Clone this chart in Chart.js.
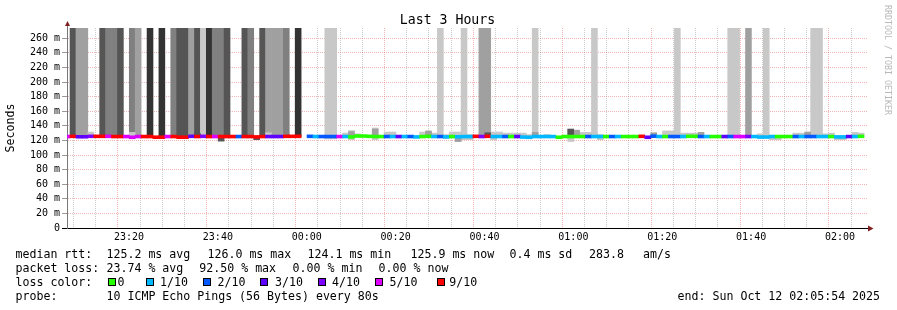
<!DOCTYPE html>
<html>
<head>
<meta charset="utf-8">
<title>Last 3 Hours</title>
<script src="https://cdn.jsdelivr.net/npm/chart.js@4.4.1/dist/chart.umd.min.js"></script>
<style>
  html, body { margin: 0; padding: 0; background: #fff; }
  #wrap { position: relative; width: 897px; height: 310px; overflow: hidden; font-family: "DejaVu Sans Mono", monospace; color: #000; }
  #chart { position: absolute; left: 0; top: 0; }
  #title { position: absolute; left: 0; top: 11.5px; width: 895px; text-align: center; font-size: 13.2px; line-height: 16px; }
  #brand { position: absolute; left: 883px; top: 5px; font-size: 8.3px; line-height: 10px; color: #b8b8b8; writing-mode: vertical-rl; white-space: pre; }
  .lg { position: absolute; font-size: 11.6px; line-height: 14px; white-space: pre; }
  .box { position: absolute; top: 278px; width: 6px; height: 6px; border: 1px solid #000; }
</style>
</head>
<body>
<div id="wrap">
  <canvas id="chart" width="897" height="310"></canvas>
  <div id="title">Last 3 Hours</div>
  <div id="brand">RRDTOOL / TOBI OETIKER</div>
  <div id="legend"></div>
</div>
<script>
// time in minutes after 23:00 (Oct 11); one sample every 80 s
const STEP_MIN = 80 / 60;
const FIRST_SAMPLE = 6 + 4 / 60; // 23:06:04
const VIEW_MIN = 6.05;
const VIEW_MAX = 186.3;
const Y_MAX = 274;
const OFF_SCALE = 300; // smoke from lost pings runs off the top
const MEDIAN_HALF = 2; // median line thickness, ms
const MONO = '"DejaVu Sans Mono", monospace';

// lost pings out of 10, per sample
const loss = [
    5, 9, 3, 3, 4, 9, 9, 5, 9, 9,
    5, 5, 5, 9, 9, 9, 9, 5, 9, 9,
    9, 3, 9, 4, 9, 5, 9, 9, 9, 2,
    9, 9, 9, 9, 3, 3, 3, 9, 9, 9,
    10, 2, 1, 2, 2, 2, 5, 1, 0, 0,
    0, 0, 0, 0, 2, 1, 3, 1, 2, 1,
    0, 0, 1, 2, 1, 0, 1, 1, 1, 9,
    4, 9, 1, 1, 2, 0, 3, 1, 1, 1,
    1, 1, 1, 0, 0, 0, 0, 0, 2, 1,
    1, 0, 2, 1, 0, 0, 0, 9, 3, 2,
    1, 0, 2, 2, 1, 0, 0, 2, 1, 0,
    0, 3, 2, 5, 5, 4, 1, 1, 1, 1,
    0, 0, 0, 2, 1, 2, 2, 1, 1, 0,
    1, 1, 3, 1, 0,
];

// median rtt, ms
const median = [
    125.3, 125.6, 125.0, 125.0, 125.6, 125.6, 125.6, 125.6, 125.3, 125.3,
    125.3, 124.3, 125.3, 125.3, 125.3, 124.4, 124.4, 125.3, 125.3, 124.4,
    124.4, 125.6, 125.3, 125.6, 125.3, 125.3, 125.3, 125.3, 125.3, 125.3,
    125.3, 125.3, 124.8, 125.3, 125.3, 125.3, 125.3, 125.6, 125.6, 125.6,
    null, 125.6, 125.3, 125.3, 125.3, 125.3, 125.3, 125.3, 124.8, 126.0,
    126.0, 125.6, 125.3, 125.3, 125.3, 125.3, 125.3, 125.3, 125.3, 124.8,
    125.3, 125.6, 125.3, 125.3, 124.8, 125.3, 125.0, 125.3, 125.3, 125.6,
    125.3, 125.6, 125.3, 125.3, 125.3, 125.3, 125.3, 124.6, 124.3, 125.3,
    125.3, 125.3, 125.3, 124.3, 125.3, 125.3, 125.3, 125.3, 125.3, 125.3,
    125.3, 125.3, 125.3, 125.3, 125.3, 125.3, 125.3, 125.6, 124.3, 125.8,
    125.3, 125.3, 125.3, 125.3, 125.3, 125.6, 125.6, 125.3, 125.3, 125.3,
    125.3, 125.3, 125.3, 125.3, 125.3, 125.3, 125.3, 124.6, 124.6, 125.3,
    125.3, 125.3, 125.3, 125.3, 125.3, 125.3, 125.3, 125.3, 125.3, 125.3,
    124.8, 124.8, 125.3, 125.3, 125.6,
];

// pings above the scale (smoke density), per sample
const highPings = [
    0, 4, 2, 2, 0, 0, 4, 3, 3, 4,
    0, 3, 2, 0, 5, 0, 5, 0, 3, 4,
    4, 2, 4, 1, 5, 3, 3, 4, 0, 0,
    4, 3, 0, 4, 2, 2, 2, 3, 0, 5,
    0, 0, 0, 0, 1, 1, 0, 0, 0, 0,
    0, 0, 0, 0, 0, 0, 0, 0, 0, 0,
    0, 0, 0, 1, 0, 0, 0, 1, 0, 0,
    2, 2, 0, 0, 0, 0, 0, 0, 0, 1,
    0, 0, 0, 0, 0, 0, 0, 0, 0, 1,
    0, 0, 0, 0, 0, 0, 0, 0, 0, 0,
    0, 0, 0, 1, 0, 0, 0, 0, 0, 0,
    0, 0, 1, 1, 0, 2, 0, 0, 1, 0,
    0, 0, 0, 0, 0, 0, 1, 1, 0, 0,
    0, 0, 0, 0, 0,
];

// ping spread around the median: [sample, low ms, high ms]
const smokeOuter = [
    [4, 127, 131.5], [11, 126, 131], [34, 126, 130.5], [44, 122, 128], [45, 122, 128],
    [47, 125, 130], [48, 121, 133.5], [49, 125, 129], [52, 121, 137], [54, 125, 131.5],
    [55, 125, 131.5], [60, 125, 131.5], [61, 125, 131.5], [62, 125, 130], [64, 123, 128],
    [65, 125, 131.5], [66, 118.5, 131.5], [67, 121, 128], [68, 121, 128], [72, 121, 131.5],
    [73, 125, 131.5], [74, 125, 130], [75, 125, 130], [76, 125, 130], [77, 125, 130],
    [78, 123, 128], [81, 125, 128], [85, 118.5, 135.5], [86, 125, 134], [87, 125, 131],
    [88, 125, 131], [89, 125, 131], [90, 121, 128], [101, 125, 133], [102, 125, 133],
    [104, 125, 130], [105, 125, 130], [106, 125, 130], [117, 125, 129], [119, 121, 126],
    [120, 121, 126], [123, 125, 130], [124, 125, 130], [128, 125, 129], [129, 125, 130],
    [130, 121, 126], [131, 121, 126], [133, 125, 131], [134, 125, 130],
];
const smokeInner = [
    [36, 126, 129], [48, 126, 132], [52, 124, 135.5], [61, 126, 133], [66, 118.5, 124],
    [79, 126, 131], [86, 126, 134], [99, 126, 130.5], [107, 126, 131], [125, 126, 131.5],
];
const smokeCore = [
    [22, 126, 129.5], [26, 119, 125], [32, 121, 124], [71, 126, 130.5], [85, 127, 135.5],
];

const lossColors = { 0: "#26ff00", 1: "#00b8ff", 2: "#0059ff", 3: "#5e00ff", 4: "#7e00ff", 5: "#dd00ff", 9: "#ff0000" };
const lossColor = (n) => lossColors[[9, 5, 4, 3, 2, 1, 0].find((k) => n >= k)];
const highShades = ["#ffffff", "#c8c8c8", "#a0a0a0", "#808080", "#555555", "#333333"];

const times = loss.map((_, i) => FIRST_SAMPLE + i * STEP_MIN);

const clock = (m) => {
    const t = (23 * 60 + Math.round(m)) % 1440;
    return String(Math.floor(t / 60)).padStart(2, "0") + ":" + String(t % 60).padStart(2, "0");
};

const rangeSet = (list, color, order) => ({
    data: list.map(([i, lo, hi]) => ({ x: times[i], y: [lo, hi] })),
    backgroundColor: color,
    order,
});

const datasets = [
    {
        // median rtt, coloured by loss
        data: median
            .map((m, i) => (m == null ? null : { x: times[i], y: [m - MEDIAN_HALF, m + MEDIAN_HALF], loss: loss[i] }))
            .filter(Boolean),
        backgroundColor: (c) => (c.raw ? lossColor(c.raw.loss) : "#000"),
        order: 0,
    },
    rangeSet(smokeCore, "#555555", 1),
    rangeSet(smokeInner, "#a0a0a0", 2),
    rangeSet(smokeOuter, "#c8c8c8", 3),
    {
        data: highPings
            .map((n, i) => (n ? { x: times[i], y: [125, OFF_SCALE], n } : null))
            .filter(Boolean),
        backgroundColor: (c) => (c.raw ? highShades[c.raw.n] : "#ccc"),
        order: 4,
    },
];

const GRID = "rgba(143,143,143,0.45)";
const MGRID = "rgba(222,79,79,0.42)";
const gridColor = (c) => (c.tick && c.tick.value % 20 === 0 ? MGRID : GRID);

const axisArrows = {
    id: "axisArrows",
    afterDraw(chart) {
        const { ctx, chartArea: a } = chart;
        ctx.save();
        ctx.lineWidth = 1;
        ctx.strokeStyle = "#000";
        ctx.beginPath();
        ctx.moveTo(a.left - 5, a.bottom + 0.5);
        ctx.lineTo(a.left, a.bottom + 0.5);
        ctx.stroke();
        ctx.strokeStyle = "#777";
        ctx.beginPath();
        ctx.moveTo(a.left + 0.5, a.top);
        ctx.lineTo(a.left + 0.5, a.top - 3);
        ctx.stroke();
        ctx.fillStyle = "#801f1f";
        ctx.beginPath();
        ctx.moveTo(a.left - 2, a.top - 2);
        ctx.lineTo(a.left + 3, a.top - 2);
        ctx.lineTo(a.left + 0.5, a.top - 7);
        ctx.closePath();
        ctx.fill();
        ctx.beginPath();
        ctx.moveTo(a.right, a.bottom - 2.5);
        ctx.lineTo(a.right, a.bottom + 3.5);
        ctx.lineTo(a.right + 5.5, a.bottom + 0.5);
        ctx.closePath();
        ctx.fill();
        ctx.restore();
    },
};

new Chart(document.getElementById("chart"), {
    type: "bar",
    data: { datasets },
    options: {
        responsive: false,
        animation: false,
        events: [],
        devicePixelRatio: 1,
        layout: { padding: { left: 0, right: 29, top: 28, bottom: 0 } },
        datasets: {
            bar: { grouped: false, barPercentage: 1, categoryPercentage: 1, borderWidth: 0 },
        },
        plugins: {
            legend: { display: false },
            tooltip: { enabled: false },
        },
        scales: {
            x: {
                type: "linear",
                min: VIEW_MIN,
                max: VIEW_MAX,
                offset: false,
                z: 1,
                afterFit: (s) => { s.height = 82; },
                afterBuildTicks: (s) => {
                    const ticks = [];
                    for (let v = 10; v <= 185; v += 5) ticks.push({ value: v });
                    s.ticks = ticks;
                },
                ticks: {
                    autoSkip: false,
                    maxRotation: 0,
                    padding: 3,
                    color: "#000",
                    font: { family: MONO, size: 10 },
                    callback: (v) => (v % 20 === 0 ? clock(v) : ""),
                },
                grid: { color: gridColor, drawTicks: false },
                border: { display: true, color: "#000", width: 1, dash: [1, 1] },
            },
            y: {
                min: 0,
                max: Y_MAX,
                z: 1,
                afterFit: (s) => { s.width = 67; },
                afterBuildTicks: (s) => {
                    const ticks = [];
                    for (let v = 0; v <= 270; v += 10) ticks.push({ value: v });
                    s.ticks = ticks;
                },
                title: {
                    display: true,
                    text: "Seconds",
                    color: "#000",
                    font: { family: MONO, size: 11.6 },
                    padding: { top: 4, bottom: 0 },
                },
                ticks: {
                    padding: 2,
                    color: "#000",
                    font: { family: MONO, size: 10 },
                    callback: (v) => (v === 0 ? "0" : v % 20 === 0 ? `${v} m` : ""),
                },
                grid: { color: gridColor, tickLength: 5, tickColor: "#999" },
                border: { display: true, color: "#777", width: 1, dash: [1, 1] },
            },
        },
    },
    plugins: [axisArrows],
});

// legend lines under the graph
const legendRows = [
    [247, [[15.5, "median rtt:"], [106.5, "125.2 ms avg"], [207.5, "126.0 ms max"], [307.5, "124.1 ms min"],
           [410.5, "125.9 ms now"], [509.5, "0.4 ms sd"], [589, "283.8"], [643, "am/s"]]],
    [261, [[15.5, "packet loss:"], [106.5, "23.74 % avg"], [199.3, "92.50 % max"], [292.6, "0.00 % min"],
           [378.6, "0.00 % now"]]],
    [275, [[15.5, "loss color:"]]],
    [289, [[15.5, "probe:"], [106.5, "10 ICMP Echo Pings (56 Bytes) every 80s"],
           [677.6, "end: Sun Oct 12 02:05:54 2025"]]],
];
const lossKeys = [
    [0, "0", 108, 117.6], [1, "1/10", 145.7, 160], [2, "2/10", 203, 217.6], [3, "3/10", 260.3, 275],
    [4, "4/10", 318, 332], [5, "5/10", 375, 389.6], [9, "9/10", 437, 449.3],
];

const legend = document.getElementById("legend");
legendRows.forEach(([top, parts]) => {
    parts.forEach(([left, text]) => {
        const el = document.createElement("div");
        el.className = "lg";
        el.style.left = left + "px";
        el.style.top = top + "px";
        el.textContent = text;
        legend.appendChild(el);
    });
});
lossKeys.forEach(([n, text, boxLeft, textLeft]) => {
    const box = document.createElement("div");
    box.className = "box";
    box.style.left = boxLeft + "px";
    box.style.background = lossColor(n);
    legend.appendChild(box);
    const el = document.createElement("div");
    el.className = "lg";
    el.style.left = textLeft + "px";
    el.style.top = "275px";
    el.textContent = text;
    legend.appendChild(el);
});
</script>
</body>
</html>
